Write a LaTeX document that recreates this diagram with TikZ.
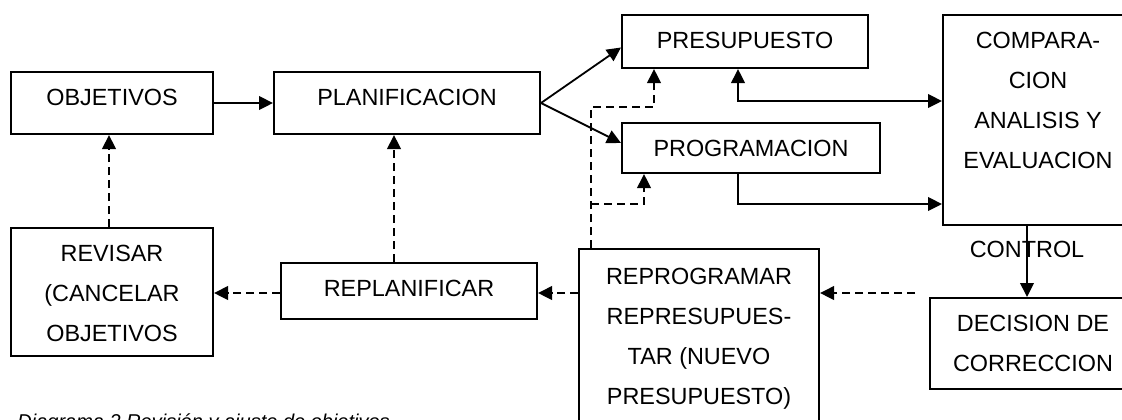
\documentclass[tikz,border=0pt]{standalone}
\usepackage{fontspec}
\setmainfont{Liberation Sans}
\usetikzlibrary{arrows.meta}

\begin{document}
\begin{tikzpicture}[
  x=0.5pt,y=-0.5pt,
  >={Triangle[length=7pt,width=6.8pt]},
  every node/.style={font=\fontsize{11.7}{20}\selectfont},
  box/.style={draw,line width=1pt,anchor=north west,align=center,
              inner xsep=0pt,inner ysep=0pt,text height=16.5pt},
  arr/.style={->,line width=0.9pt},
  dsh/.style={arr,dash pattern=on 4pt off 2.5pt},
  captxt/.style={font=\fontsize{10}{12}\selectfont\itshape,
                 anchor=base west,inner sep=0pt}]

  % --- page frame; the two right-hand boxes run off the edge
  \useasboundingbox (0,0) rectangle (1122,419);
  \clip (0,0) rectangle (1122,419);
  \fill[white] (0,0) rectangle (1122,419);

  % --- top row (text sits at the top of each box; multi-line boxes
  %     count their height down to the last baseline, 20pt per line)
  \node[box,minimum width=101pt,text depth=14.5pt] (obj)  at (10,71)  {OBJETIVOS};
  \node[box,minimum width=133pt,text depth=14.5pt] (plan) at (273,71) {PLANIFICACION};
  \node[box,minimum width=123pt,text depth=10pt]   (pres) at (621,14) {PRESUPUESTO};
  \node[box,minimum width=129pt,text depth=8.5pt]  (prog) at (621,122) {PROGRAMACION};
  \node[box,minimum width=95pt,text height=76.5pt,text depth=28.5pt] (comp) at (942,14)
    {COMPARA-\\CION\\ANALISIS Y\\EVALUACION};

  % --- bottom row
  \node[box,minimum width=101pt,text height=56.5pt,text depth=7.5pt] (rev) at (10,227)
    {REVISAR\\(CANCELAR\\OBJETIVOS};
  \node[box,minimum width=128pt,text depth=11.5pt] (replan) at (280,262) {REPLANIFICAR};
  \node[box,minimum width=120pt,text height=77.5pt,text depth=23.5pt] (reprog) at (578,248)
    {REPROGRAMAR\\REPRESUPUES-\\TAR (NUEVO\\PRESUPUESTO)};
  \node[box,minimum width=103pt,text height=36.5pt,text depth=9pt] (dec) at (929,297)
    {DECISION DE\\CORRECCION};

  % --- forward flow (solid)
  \draw[arr] (obj.east) -- (plan.west);
  \draw[arr] (plan.east) -- ([yshift=-3pt]pres.west);
  \draw[arr] (plan.east) -- ([yshift=2.5pt]prog.west);
  \draw[arr,<->] ([xshift=-3.5pt]pres.south) |- ([yshift=9.5pt]comp.west);
  \draw[arr] ([xshift=-6.5pt]prog.south) |- ([yshift=-42pt]comp.west);
  \draw[arr] ([xshift=-5.5pt]comp.south) -- ([xshift=-3pt]dec.north)
    node[pos=0.33] (ctl) {CONTROL};

  % --- feedback (dashed)
  \coordinate (fb) at (915,293);
  \draw[dsh] (fb) -- (fb -| reprog.east);
  \draw[dsh] (reprog.west |- fb) -- (replan.east |- fb);
  \draw[dsh] (replan.west |- fb) -- (rev.east |- fb);
  \draw[dsh] ([xshift=-1.5pt]rev.north) -- ([xshift=-1.5pt]obj.south);
  \draw[dsh] ([xshift=-7.5pt]replan.north) -- ([xshift=-7.5pt]replan.north |- plan.south);

  % reprogram branch back up to budget and schedule
  \coordinate (rp)    at ([xshift=-54pt]reprog.north);
  \coordinate (ps-in) at ([xshift=-45.5pt]pres.south);
  \coordinate (pg-in) at ([xshift=-53.5pt]prog.south);
  \draw[dsh] (rp) |- (ps-in |- 0,107) -- (ps-in);
  \draw[dsh] (rp |- 0,204) -| (pg-in);

  % --- caption
  \node[captxt] (capt) at (17,428) {Diagrama 2 Revisión y ajuste de objetivos};
\end{tikzpicture}
\end{document}
